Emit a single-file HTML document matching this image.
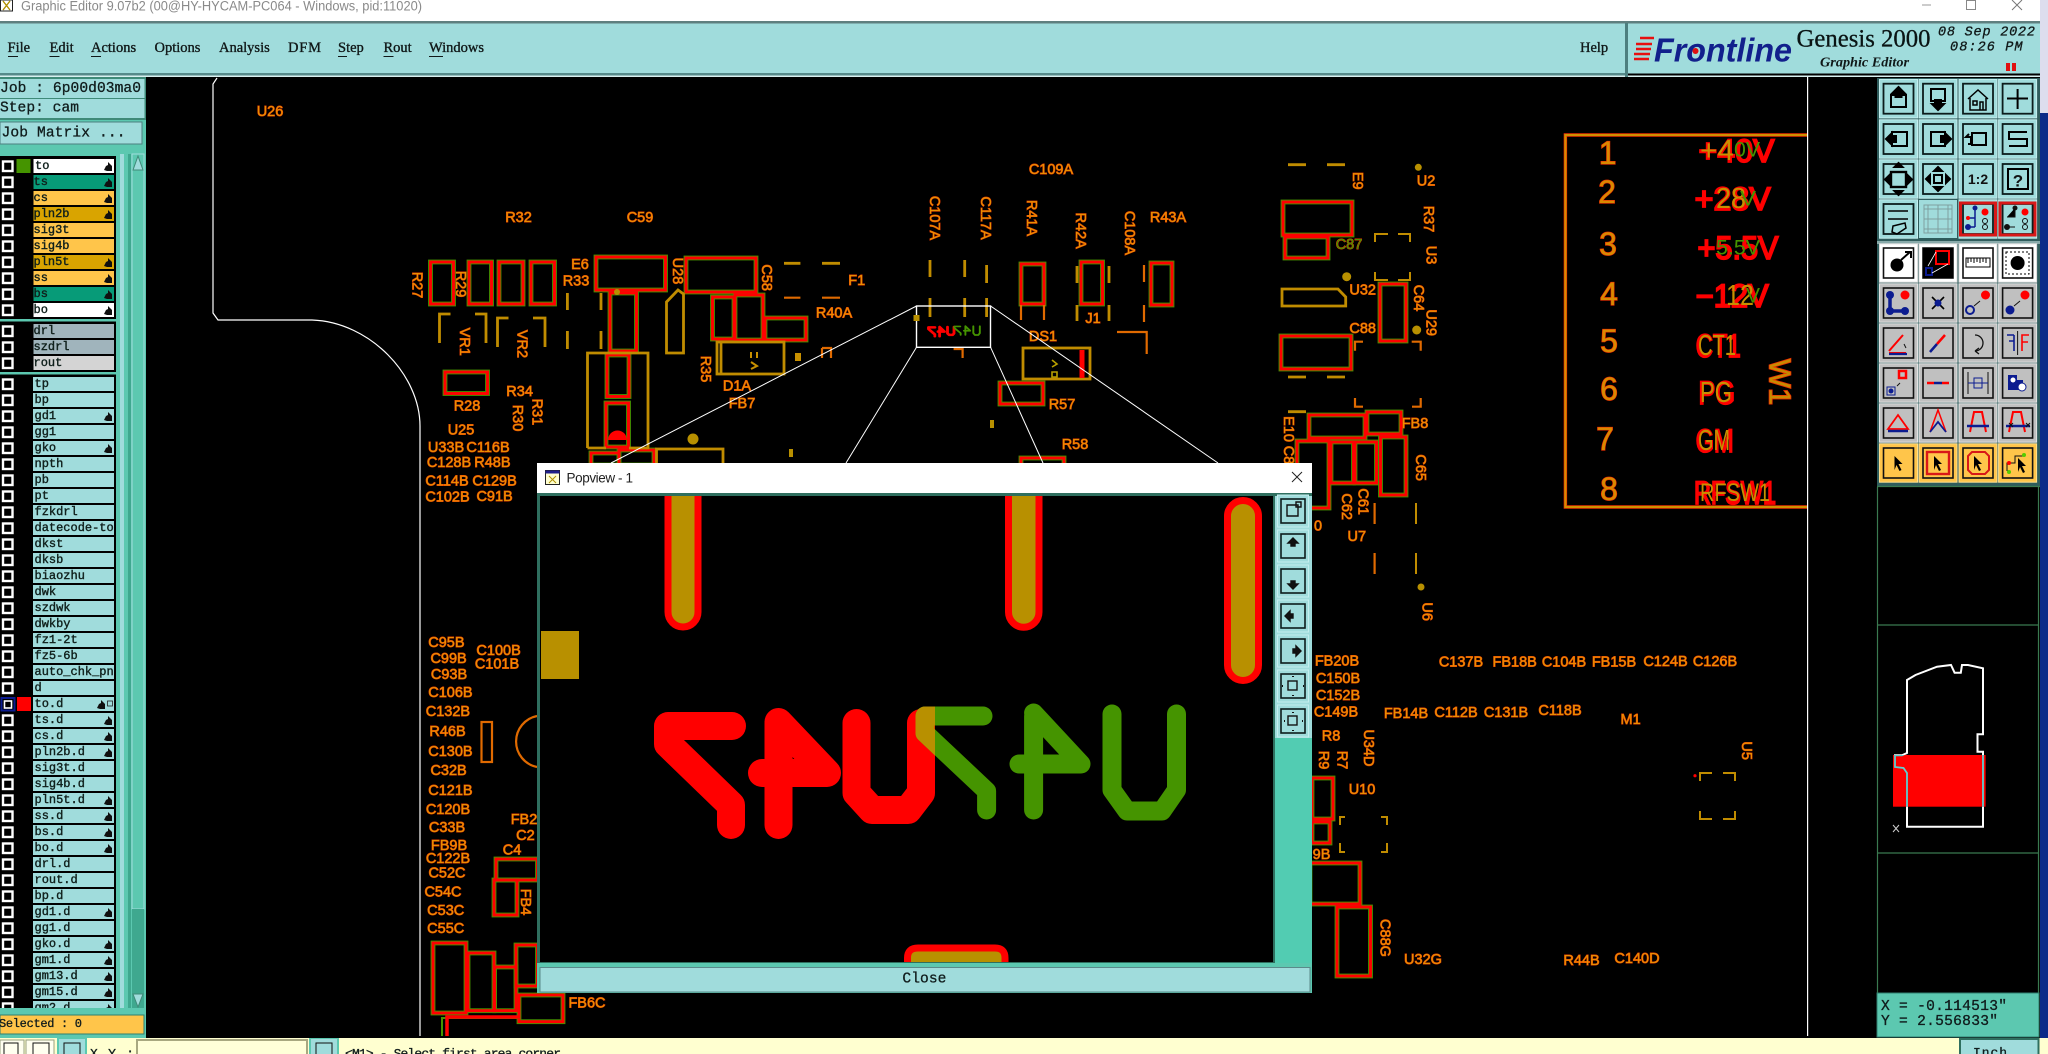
<!DOCTYPE html>
<html><head><meta charset="utf-8"><title>Genesis 2000 Graphic Editor</title>
<style>
html,body{margin:0;padding:0;background:#000;width:2048px;height:1054px;overflow:hidden}
svg{display:block}
text{dominant-baseline:central}
.l{font:14.5px "Liberation Sans",sans-serif;fill:#e89000;stroke:#e83c00;stroke-width:.9;paint-order:stroke;text-anchor:middle}
.m{font:12px "Liberation Mono",monospace;fill:#10201c;stroke:#10201c;stroke-width:.4}
.b{font:14.6px "Liberation Mono",monospace;fill:#101c1c;stroke:#101c1c;stroke-width:.3}
.s{font:14.5px "Liberation Serif",serif;fill:#101818;stroke:#101818;stroke-width:.35}
.n{font:32px "Liberation Sans",sans-serif;fill:#d88a00;stroke:#f03000;stroke-width:1.2;paint-order:stroke;text-anchor:middle}
.pr{font:32px "Liberation Sans",sans-serif;fill:#f00;stroke:#f00;stroke-width:1.8}
.pg{font:29px "Liberation Sans",sans-serif;fill:#c89000}
.pn{font:21px "Liberation Sans",sans-serif;fill:#459400}
</style></head><body>
<svg width="2048" height="1054" viewBox="0 0 2048 1054" xmlns="http://www.w3.org/2000/svg">
<defs>
<pattern id="rp" width="20" height="16" patternUnits="userSpaceOnUse" y="377"><rect width="20" height="14" fill="#a0dcdc"/></pattern>
<pattern id="cbp" width="20" height="16" patternUnits="userSpaceOnUse" x="0" y="377"><rect x="3" y="2.5" width="9.5" height="9.5" fill="#000" stroke="#fff" stroke-width="2.4"/></pattern>
<path id="h" d="M-4 3-2-1 0-2 0-5 2-3 4-1 4 4-1 4Z" fill="#101010"/>
<g id="bt"><rect x="-19" y="-19.2" width="38" height="38.4" fill="#a0dcdc" stroke="#c4eeee" stroke-width="1"/><rect x="-15" y="-15" width="30" height="30" fill="none" stroke="#0c1c1c" stroke-width="1.8"/></g>
<g id="bg"><rect x="-19" y="-19.2" width="38" height="38.4" fill="#c0c0c0" stroke="#e4e4e4" stroke-width="1"/><rect x="-15" y="-15" width="30" height="30" fill="none" stroke="#111" stroke-width="1.6"/></g>
<g id="bw"><rect x="-19" y="-19.2" width="38" height="38.4" fill="#fff" stroke="#ddd" stroke-width="1"/><rect x="-15" y="-15" width="30" height="30" fill="none" stroke="#111" stroke-width="1.6"/></g>
<g id="by"><rect x="-19" y="-19.2" width="38" height="38.4" fill="#ffc54a" stroke="#ffe090" stroke-width="1"/><rect x="-15" y="-15" width="30" height="30" fill="none" stroke="#111" stroke-width="1.6"/></g>
<g id="bp"><rect x="-15.5" y="-16" width="31" height="32" fill="#a0dcdc" stroke="#c4eeee"/><rect x="-12" y="-12" width="24" height="24" fill="none" stroke="#0c1c1c" stroke-width="1.6"/></g>
<path id="ar" d="M-4 7-4-7 4 1 0 1 3 7 1 8-2 2Z" fill="#000"/>
<g id="cm">
<rect x="430.5" y="262" width="23" height="42"/><rect x="469" y="262" width="22.5" height="42"/><rect x="499" y="262" width="24" height="42"/><rect x="531" y="262" width="23.5" height="42"/>
<rect x="596" y="257" width="69.5" height="33"/><rect x="686" y="258" width="70" height="34"/><rect x="610" y="293" width="26.5" height="58"/>
<rect x="607" y="355" width="22" height="41.5"/><rect x="606" y="403" width="22.5" height="44"/><rect x="445" y="372" width="42.5" height="21.5"/>
<rect x="712.5" y="297" width="21.5" height="42"/><rect x="735" y="295" width="28" height="45"/><rect x="765" y="318" width="41" height="22"/><rect x="1000" y="383" width="43" height="21"/>
<rect x="1021" y="264" width="23" height="40"/><rect x="1081" y="262" width="21.5" height="42"/><rect x="1151" y="263" width="21" height="42"/>
<rect x="1283" y="202" width="69" height="33"/><rect x="1285" y="237" width="43" height="21"/><rect x="1380" y="284" width="26" height="57"/><rect x="1281" y="336" width="70" height="33"/>
<rect x="1309" y="415" width="56" height="23"/><rect x="1367" y="412" width="34" height="22"/><rect x="1297" y="441" width="32" height="67"/><rect x="1331" y="442" width="22.5" height="41"/><rect x="1355" y="442" width="21.5" height="41"/><rect x="1380.5" y="437" width="25.5" height="58"/>
<rect x="496" y="859" width="41.5" height="21"/><rect x="494" y="880" width="23" height="35"/><rect x="433" y="943" width="33" height="70"/><rect x="468" y="953" width="26" height="57.7"/><rect x="494.6" y="967" width="21.4" height="43.7"/><rect x="516" y="945" width="21.5" height="41"/><rect x="519" y="995" width="44" height="26.7"/>
<rect x="591" y="453" width="28" height="12"/><rect x="619" y="450" width="35" height="15"/><rect x="1021" y="458" width="43" height="8"/>
<rect x="1312" y="778" width="21" height="41"/><rect x="1312" y="822" width="18" height="21"/><rect x="1310" y="863" width="50" height="41"/><rect x="1337" y="907" width="33.5" height="69"/>
</g>
<g id="txt">
<g fill="none" stroke="#f00" stroke-width="28" stroke-linejoin="round" stroke-linecap="round">
<path d="M732 726H668V744L731 805V825"/><path d="M778.5 723V825M762 773H827L778.5 722"/><path d="M856.5 723V793L872 810H908L921 793V723"/>
</g>
<path d="M770 745 L815 772 H775Z" fill="#f00"/>
<g fill="none" stroke="#459400" stroke-width="19" stroke-linejoin="round" stroke-linecap="round">
<path d="M983 716H925V733L986.6 791V810"/><path d="M1033.6 716V810M1019 764H1081L1033.6 713"/><path d="M1112 714V790L1127 811H1162L1176.5 790V714"/>
</g>
</g>
<clipPath id="ov"><path d="M907 705h28v90h-28z"/></clipPath>
<clipPath id="lst"><rect x="0" y="155" width="114" height="853"/></clipPath>
<clipPath id="pop"><rect x="540" y="496" width="733" height="466"/></clipPath>
<clipPath id="bot"><rect x="0" y="1038" width="2048" height="16"/></clipPath>
<clipPath id="redm"><rect x="1893" y="755" width="92.6" height="51.7"/></clipPath>
</defs>

<!-- base -->
<rect width="2048" height="1054" fill="#000"/>
<rect x="0" y="0" width="2048" height="21" fill="#fff"/>
<rect x="0" y="21" width="2040" height="2.5" fill="#5f7f7f"/>
<rect x="0" y="23.5" width="2040" height="50" fill="#a0dcdc"/>
<rect x="0" y="73" width="1625" height="2.5" fill="#568a8a"/>
<rect x="0" y="75.5" width="2040" height="1.5" fill="#d8f0f0"/>
<rect x="1625" y="23" width="3" height="54" fill="#4d7f7f"/>
<rect x="2040" y="0" width="8" height="113" fill="#dde"/>
<rect x="2040" y="113" width="8" height="941" fill="#0c2a88"/>

<!-- title -->
<rect x="0.5" y="0" width="12" height="11" fill="#fff" stroke="#222"/>
<path d="M3 1 10 10M10 1 3 10" stroke="#b09000" stroke-width="1.4"/>
<text x="21" y="6" style="font:13.4px 'Liberation Sans',sans-serif;fill:#8a8a8a" textLength="401" lengthAdjust="spacingAndGlyphs">Graphic Editor 9.07b2 (00@HY-HYCAM-PC064 - Windows, pid:11020)</text>
<path d="M1922 5h9" stroke="#999"/><rect x="1966.5" y="0.5" width="9" height="9" fill="none" stroke="#888"/><path d="M2012 0 2022 10M2022 0 2012 10" stroke="#777"/>

<!-- menu -->
<g class="s">
<text class="s" x="7.5" y="48">File</text><text class="s" x="49.5" y="48">Edit</text><text class="s" x="91" y="48">Actions</text><text class="s" x="154.5" y="48">Options</text><text class="s" x="219" y="48">Analysis</text><text class="s" x="288" y="48" textLength="33">DFM</text><text class="s" x="338" y="48">Step</text><text class="s" x="383.5" y="48">Rout</text><text class="s" x="429" y="48" textLength="55">Windows</text><text class="s" x="1580" y="48">Help</text>
</g>
<path d="M8 56.5h10M49.5 56.5h10M91 56.5h10M338 56.5h9M383.5 56.5h10M429 56.5h14" stroke="#101818" stroke-width="1"/>
<path d="M1640 38h14M1636 44h16M1636 49h15M1634 54h16M1634 59h15" stroke="#e81010" stroke-width="2.4"/>
<text x="1654" y="50" textLength="138" lengthAdjust="spacingAndGlyphs" style="font:italic bold 33px 'Liberation Sans',sans-serif;fill:#12208c">Frontline</text>
<circle cx="1695.5" cy="51" r="3" fill="#e01010"/>
<text x="1796.5" y="38" textLength="134" lengthAdjust="spacingAndGlyphs" style="font:25.5px 'Liberation Serif',serif;fill:#0a1414;stroke:#0a1414;stroke-width:.3">Genesis 2000</text>
<text x="1820" y="63" textLength="89" lengthAdjust="spacingAndGlyphs" style="font:italic bold 14px 'Liberation Serif',serif;fill:#101818">Graphic Editor</text>
<text x="1938" y="33" textLength="97" style="font:italic 13.5px 'Liberation Mono',monospace;fill:#101818;stroke:#101818;stroke-width:.3">08 Sep 2022</text>
<text x="1950" y="48" textLength="72.5" style="font:italic 13.5px 'Liberation Mono',monospace;fill:#101818;stroke:#101818;stroke-width:.3">08:26 PM</text>
<rect x="2006" y="63" width="4" height="8" fill="#e01010"/><rect x="2012" y="63" width="4" height="8" fill="#e01010"/>

<!-- left panel top -->
<rect x="0" y="77" width="146" height="80" fill="#3f8a78"/>
<rect x="0" y="79" width="144.5" height="19" fill="#a0dcdc"/>
<rect x="0" y="99" width="144.5" height="19" fill="#a0dcdc"/>
<rect x="0" y="120" width="146" height="27" fill="#5cc8b0"/>
<rect x="0" y="122" width="142" height="22" fill="#a0dcdc" stroke="#4d8080"/>
<text class="b" x="0" y="89" textLength="141">Job : 6p00d03ma0</text>
<text class="b" x="0" y="108.7" textLength="79">Step: cam</text>
<text class="b" x="1.5" y="133.3" textLength="124">Job Matrix ...</text>
<rect x="0" y="147" width="146" height="7" fill="#5cc8b0"/>
<rect x="0" y="154" width="116" height="854" fill="#000"/>
<rect x="116" y="154" width="30" height="861" fill="#5cc8b0"/>
<rect x="120" y="154" width="4" height="854" fill="#a0dcdc"/>
<rect x="128" y="154" width="3" height="854" fill="#3fa88f"/>
<rect x="132" y="154" width="12" height="755" fill="#5cc8b0" stroke="#a0dcdc"/>
<rect x="132" y="909" width="12" height="99" fill="#3fa88f"/>
<path d="M133 170 138 156 143 170Z" fill="#a0dcdc" stroke="#3f8a78"/><path d="M133 994 138 1007 143 994Z" fill="#a0dcdc" stroke="#3f8a78"/>

<!-- layers -->
<rect x="0" y="319" width="116" height="2.5" fill="#5cc8b0"/><rect x="0" y="372" width="116" height="2.5" fill="#5cc8b0"/>
<rect x="0" y="153" width="116" height="3" fill="#5cc8b0"/>
<rect x="0" y="377" width="16" height="160" fill="url(#cbp)" transform="translate(0 -218)"/>
<rect x="0" y="377" width="16" height="48" fill="url(#cbp)" transform="translate(0 -53)"/>
<rect x="0" y="377" width="16" height="631" fill="url(#cbp)"/>
<rect x="33" y="377" width="81" height="631" fill="url(#rp)"/>
<rect x="16.5" y="159" width="14" height="14" fill="#459400"/>
<rect x="33.5" y="159" width="80.5" height="14" fill="#fff"/><rect x="33.5" y="175" width="80.5" height="14" fill="#079b78"/><rect x="33.5" y="191" width="80.5" height="14" fill="#ffc54a"/><rect x="33.5" y="207" width="80.5" height="14" fill="#d9a400"/><rect x="33.5" y="223" width="80.5" height="14" fill="#ffc54a"/><rect x="33.5" y="239" width="80.5" height="14" fill="#ffc54a"/><rect x="33.5" y="255" width="80.5" height="14" fill="#d9a400"/><rect x="33.5" y="271" width="80.5" height="14" fill="#ffc54a"/><rect x="33.5" y="287" width="80.5" height="14" fill="#079b78"/><rect x="33.5" y="303" width="80.5" height="14" fill="#fff"/>
<rect x="33.5" y="324" width="80.5" height="14" fill="#a0b4bc"/><rect x="33.5" y="340" width="80.5" height="14" fill="#a0b4bc"/><rect x="33.5" y="356" width="80.5" height="14" fill="#d4d4d4"/>
<rect x="17" y="697" width="14" height="14" fill="#f00"/>
<rect x="1.5" y="698" width="13" height="12.5" fill="#000" stroke="#0c1c90" stroke-width="2"/><rect x="4.5" y="701" width="7" height="7" fill="#000" stroke="#fff" stroke-width="1.6"/>
<g clip-path="url(#lst)">
<text class="m" x="35" y="166">to</text><text class="m" x="33.5" y="182">ts</text><text class="m" x="33.5" y="198">cs</text><text class="m" x="33.5" y="214">pln2b</text><text class="m" x="33.5" y="230">sig3t</text><text class="m" x="33.5" y="246">sig4b</text><text class="m" x="33.5" y="262">pln5t</text><text class="m" x="33.5" y="278">ss</text><text class="m" x="33.5" y="294">bs</text><text class="m" x="33.5" y="310">bo</text>
<text class="m" x="33.5" y="331">drl</text><text class="m" x="33.5" y="347">szdrl</text><text class="m" x="33.5" y="363">rout</text>
<text class="m" x="34.5" y="384">tp</text><text class="m" x="34.5" y="400">bp</text><text class="m" x="34.5" y="416">gd1</text><text class="m" x="34.5" y="432">gg1</text><text class="m" x="34.5" y="448">gko</text><text class="m" x="34.5" y="464">npth</text><text class="m" x="34.5" y="480">pb</text><text class="m" x="34.5" y="496">pt</text><text class="m" x="34.5" y="512">fzkdrl</text><text class="m" x="34.5" y="528">datecode-to</text><text class="m" x="34.5" y="544">dkst</text><text class="m" x="34.5" y="560">dksb</text><text class="m" x="34.5" y="576">biaozhu</text><text class="m" x="34.5" y="592">dwk</text><text class="m" x="34.5" y="608">szdwk</text><text class="m" x="34.5" y="624">dwkby</text><text class="m" x="34.5" y="640">fz1-2t</text><text class="m" x="34.5" y="656">fz5-6b</text><text class="m" x="34.5" y="672">auto_chk_pnl</text><text class="m" x="34.5" y="688">d</text><text class="m" x="34.5" y="704">to.d</text><text class="m" x="34.5" y="720">ts.d</text><text class="m" x="34.5" y="736">cs.d</text><text class="m" x="34.5" y="752">pln2b.d</text><text class="m" x="34.5" y="768">sig3t.d</text><text class="m" x="34.5" y="784">sig4b.d</text><text class="m" x="34.5" y="800">pln5t.d</text><text class="m" x="34.5" y="816">ss.d</text><text class="m" x="34.5" y="832">bs.d</text><text class="m" x="34.5" y="848">bo.d</text><text class="m" x="34.5" y="864">drl.d</text><text class="m" x="34.5" y="880">rout.d</text><text class="m" x="34.5" y="896">bp.d</text><text class="m" x="34.5" y="912">gd1.d</text><text class="m" x="34.5" y="928">gg1.d</text><text class="m" x="34.5" y="944">gko.d</text><text class="m" x="34.5" y="960">gm1.d</text><text class="m" x="34.5" y="976">gm13.d</text><text class="m" x="34.5" y="992">gm15.d</text><text class="m" x="34.5" y="1008">gm2.d</text>
<use href="#h" x="108" y="167"/><use href="#h" x="108" y="183"/><use href="#h" x="108" y="199"/><use href="#h" x="108" y="215"/><use href="#h" x="108" y="263"/><use href="#h" x="108" y="279"/><use href="#h" x="108" y="295"/><use href="#h" x="108" y="311"/>
<use href="#h" x="108" y="417"/><use href="#h" x="108" y="449"/><use href="#h" x="101" y="705"/><rect x="107.5" y="701" width="5" height="5" fill="none" stroke="#222" stroke-width=".8"/><use href="#h" x="108" y="721"/><use href="#h" x="108" y="737"/><use href="#h" x="108" y="753"/><use href="#h" x="108" y="801"/><use href="#h" x="108" y="817"/><use href="#h" x="108" y="833"/><use href="#h" x="108" y="849"/><use href="#h" x="108" y="913"/><use href="#h" x="108" y="945"/><use href="#h" x="108" y="961"/><use href="#h" x="108" y="977"/><use href="#h" x="108" y="993"/><use href="#h" x="108" y="1009"/>
</g>
<rect x="0" y="1008" width="146" height="30" fill="#5cc8b0"/>
<rect x="0" y="1015" width="144" height="19" fill="#ffc54a" stroke="#2f7f6f"/>
<text class="b" x="-1" y="1024" textLength="83" style="font-size:12px">Selected : 0</text>

<!-- board outline -->
<path d="M217 78 213 84V313L218 320H312C370 322 420 375 420 426V1036M1807.6 77V1036" fill="none" stroke="#fff" stroke-width="1.2"/>

<!-- PCB components -->
<use href="#cm" stroke="#459400" stroke-width="4.8" fill="none"/>
<use href="#cm" stroke="#f00" stroke-width="2.9" fill="none"/>
<g fill="none" stroke="#c08c00" stroke-width="2.8">
<path d="M587.5 448V353H648V448H629M606 448H587.5"/>
<path d="M670 353H683.5V294L678 290 666.5 302V353Z"/>
<rect x="717" y="342" width="67" height="32"/><path d="M721 342V374"/>
<rect x="1023" y="348" width="67" height="31"/>
<rect x="656.5" y="449" width="66.5" height="16"/>
<path d="M450.5 314H439.5V343M475 314H486V343M508.5 318H497.5V347M533 318H545V347"/>
<path d="M567.4 293V310M567.4 331V349M601 293V310M601 331V349M784 263.3H800.4M822 263.3H840M930 260V277M964.7 260V277M986.6 265V283M930 298V317M964.7 298V317M986.6 298V317"/>
<path d="M1077 266V283M1109 266V283M1077 305V321M1109 305V321M1288 164.7H1306M1327 164.7H1345M1288 377H1306M1327 377H1345M1288 411.7H1306"/>
<path d="M1282 306V289H1338L1345.7 297V306Z"/>
</g>
<g fill="none" stroke="#c08c00" stroke-width="2">
<path d="M1375 242V234H1388M1398 234H1410V242M1375 272V280H1388M1398 280H1410V272"/>
<path d="M1416 503V524M1416 553V574"/>
<path d="M1340 825V817H1345M1381 817H1387V825M1340 843V852H1345M1381 852H1387V843"/>
<path d="M1700 781V773H1712M1723 773H1735V781M1700 811V819H1712M1723 819H1735V811"/>
</g>
<g fill="none" stroke="#e06a00" stroke-width="2.2">
<path d="M784 297.7H800.4M822 297.7H840M953.6 349H962.6V358M1021 305V320M1044 305V320M1144 265V282M1144 305V322M1117 332H1146.7V354M1374.6 503V524M1374.6 553V574"/>
<path d="M1363 341.7H1355V350.7M1411.7 341.7H1420.7V350.7M1355 398V406.7H1363M1420.7 398V406.7H1412"/>
<rect x="481.5" y="722" width="10.5" height="40"/><path d="M537 716A26 26 0 0 0 537 767"/>
<path d="M822 348H831V358M822 348V358"/>
</g>
<path d="M1082 350V378" stroke="#f00" stroke-width="5"/>
<path d="M442 1036V1018H520M447 1036V1020" fill="none" stroke="#459400" stroke-width="2"/><path d="M447 1036V1017H520" fill="none" stroke="#f00" stroke-width="3.5"/>
<path d="M608 440A9.5 9.5 0 0 1 627 440Z" fill="#f00"/>
<circle cx="693" cy="439" r="5.5" fill="#b89000"/><rect x="789" y="449" width="4" height="8" fill="#b89000"/><rect x="990" y="420" width="4" height="8" fill="#b89000"/><rect x="795" y="353" width="6" height="8" fill="#c89000"/>
<circle cx="1418.3" cy="167.3" r="3.5" fill="#b89000"/><circle cx="1346.7" cy="276.7" r="4.5" fill="#b89000"/><circle cx="1416.7" cy="330" r="4.5" fill="#b89000"/><circle cx="1421" cy="587" r="3.5" fill="#b89000"/>
<circle cx="1695" cy="775.7" r="1.6" fill="#f00"/><circle cx="617" cy="292" r="3" fill="#b89000"/>
<path d="M751 352v6M757 352v6M751 362l6 4-6 3" stroke="#c89000" fill="none" stroke-width="2"/>
<path d="M1052 360l5 4-5 3M1052 372h5v5h-5z" stroke="#b8a000" fill="none" stroke-width="1.6"/>

<!-- labels -->
<text class="l" x="270" y="112">U26</text><text class="l" x="518.5" y="218">R32</text><text class="l" x="640" y="218">C59</text><text class="l" x="580" y="265">E6</text><text class="l" x="576" y="281.7">R33</text>
<text class="l" x="416.5" y="285" transform="rotate(90 416.5 285)">R27</text><text class="l" x="460" y="284" transform="rotate(90 460 284)">R29</text><text class="l" x="464" y="341.7" transform="rotate(90 464 341.7)">VR1</text><text class="l" x="521.4" y="344" transform="rotate(90 521.4 344)">VR2</text><text class="l" x="676.8" y="271" transform="rotate(90 676.8 271)">U28</text><text class="l" x="766" y="277.7" transform="rotate(90 766 277.7)">C58</text>
<text class="l" x="856.7" y="281">F1</text><text class="l" x="834" y="313.3">R40A</text><text class="l" x="705" y="369" transform="rotate(90 705 369)">R35</text><text class="l" x="737" y="386.7">D1A</text><text class="l" x="742" y="404">FB7</text><text class="l" x="467" y="406.7">R28</text><text class="l" x="519.6" y="392">R34</text><text class="l" x="517" y="418" transform="rotate(90 517 418)">R30</text><text class="l" x="536.6" y="412" transform="rotate(90 536.6 412)">R31</text><text class="l" x="461" y="430.7">U25</text>
<text class="l" x="446" y="448">U33B</text><text class="l" x="488" y="448">C116B</text><text class="l" x="449" y="463">C128B</text><text class="l" x="492.4" y="463">R48B</text><text class="l" x="447" y="481.7">C114B</text><text class="l" x="494.6" y="481.7">C129B</text><text class="l" x="447.5" y="497.7">C102B</text><text class="l" x="494.6" y="496.8">C91B</text>
<text class="l" x="1051" y="170">C109A</text><text class="l" x="934" y="218" transform="rotate(90 934 218)">C107A</text><text class="l" x="984.8" y="218" transform="rotate(90 984.8 218)">C117A</text><text class="l" x="1031" y="218" transform="rotate(90 1031 218)">R41A</text><text class="l" x="1080" y="230.7" transform="rotate(90 1080 230.7)">R42A</text><text class="l" x="1129" y="233" transform="rotate(90 1129 233)">C108A</text><text class="l" x="1168" y="218">R43A</text><text class="l" x="1093" y="319">J1</text><text class="l" x="1043" y="337">DS1</text><text class="l" x="1062" y="405">R57</text><text class="l" x="1075" y="445">R58</text>
<text class="l" x="1357" y="180.7" transform="rotate(90 1357 180.7)">E9</text><text class="l" x="1426" y="181.7">U2</text><text class="l" x="1428" y="219" transform="rotate(90 1428 219)">R37</text><text class="l" x="1349" y="245" style="fill:#459400">C87</text><text class="l" x="1430.7" y="255" transform="rotate(90 1430.7 255)">U3</text><text class="l" x="1362.7" y="290.7">U32</text><text class="l" x="1418" y="298" transform="rotate(90 1418 298)">C64</text><text class="l" x="1430.7" y="322.7" transform="rotate(90 1430.7 322.7)">U29</text><text class="l" x="1362.7" y="329">C88</text><text class="l" x="1415" y="424">FB8</text><text class="l" x="1288" y="429" transform="rotate(90 1288 429)">E10</text><text class="l" x="1288" y="455" transform="rotate(90 1288 455)">C8</text><text class="l" x="1420" y="467.7" transform="rotate(90 1420 467.7)">C65</text><text class="l" x="1346" y="506.7" transform="rotate(90 1346 506.7)">C62</text><text class="l" x="1362.7" y="501.7" transform="rotate(90 1362.7 501.7)">C61</text><text class="l" x="1318" y="526.7">0</text><text class="l" x="1356.8" y="537">U7</text><text class="l" x="1426.7" y="611.7" transform="rotate(90 1426.7 611.7)">U6</text>
<text class="l" x="446.4" y="643">C95B</text><text class="l" x="448.6" y="659">C99B</text><text class="l" x="449" y="675">C93B</text><text class="l" x="450.4" y="693">C106B</text><text class="l" x="447.9" y="712">C132B</text><text class="l" x="447.5" y="732">R46B</text><text class="l" x="450.4" y="752">C130B</text><text class="l" x="448.6" y="771">C32B</text><text class="l" x="450.4" y="791">C121B</text><text class="l" x="448" y="810">C120B</text><text class="l" x="447" y="828">C33B</text><text class="l" x="449" y="846">FB9B</text><text class="l" x="448" y="859">C122B</text><text class="l" x="447" y="873.5">C52C</text><text class="l" x="443" y="892.5">C54C</text><text class="l" x="445.7" y="911">C53C</text><text class="l" x="445.7" y="929">C55C</text><text class="l" x="498.6" y="651">C100B</text><text class="l" x="497" y="664.6">C101B</text><text class="l" x="524" y="820">FB2</text><text class="l" x="525.4" y="836">C2</text><text class="l" x="512" y="850.5">C4</text><text class="l" x="525" y="902" transform="rotate(90 525 902)">FB4</text><text class="l" x="587" y="1003.6">FB6C</text>
<text class="l" x="1337" y="661.7">FB20B</text><text class="l" x="1338" y="679">C150B</text><text class="l" x="1338" y="696">C152B</text><text class="l" x="1336" y="712.7">C149B</text><text class="l" x="1331" y="736.7">R8</text><text class="l" x="1323" y="760" transform="rotate(90 1323 760)">R9</text><text class="l" x="1341.5" y="760" transform="rotate(90 1341.5 760)">R7</text><text class="l" x="1368" y="748" transform="rotate(90 1368 748)">U34D</text><text class="l" x="1362" y="790">U10</text><text class="l" x="1321.5" y="855">9B</text><text class="l" x="1746" y="750.7" transform="rotate(90 1746 750.7)">U5</text>
<text class="l" x="1461" y="662.7">C137B</text><text class="l" x="1514.7" y="662.7">FB18B</text><text class="l" x="1564" y="662.7">C104B</text><text class="l" x="1614" y="662.7">FB15B</text><text class="l" x="1665.5" y="662">C124B</text><text class="l" x="1715" y="662">C126B</text><text class="l" x="1406" y="714">FB14B</text><text class="l" x="1456" y="713">C112B</text><text class="l" x="1506" y="713">C131B</text><text class="l" x="1560" y="711">C118B</text><text class="l" x="1630.6" y="720">M1</text><text class="l" x="1384.4" y="938" transform="rotate(90 1384.4 938)">C88G</text><text class="l" x="1423" y="960">U32G</text><text class="l" x="1581.5" y="961">R44B</text><text class="l" x="1637" y="959">C140D</text>

<!-- connector table -->
<path d="M1807 135H1565.4V507H1807" fill="none" stroke="#f03000" stroke-width="3.4"/><path d="M1807 135H1565.4V507H1807" fill="none" stroke="#d09000" stroke-width="2"/>
<text class="n" x="1607.6" y="153">1</text><text class="n" x="1607" y="192">2</text><text class="n" x="1608" y="244">3</text><text class="n" x="1609" y="294">4</text><text class="n" x="1609" y="341">5</text><text class="n" x="1609" y="389">6</text><text class="n" x="1605" y="439">7</text><text class="n" x="1609" y="489">8</text>
<text class="pr" x="1698.5" y="151" textLength="76" lengthAdjust="spacingAndGlyphs">+40V</text><text class="pg" x="1700" y="151" textLength="34" lengthAdjust="spacingAndGlyphs">+4</text><text class="pn" x="1734" y="150" textLength="26" lengthAdjust="spacingAndGlyphs">0V</text>
<text class="pr" x="1694.7" y="199" textLength="76" lengthAdjust="spacingAndGlyphs">+28V</text><text class="pg" x="1716" y="199" textLength="30" lengthAdjust="spacingAndGlyphs">28</text><text class="pn" x="1740" y="199" textLength="16" lengthAdjust="spacingAndGlyphs">V</text>
<text class="pr" x="1697.5" y="248" textLength="81" lengthAdjust="spacingAndGlyphs">+5.5V</text><text class="pn" x="1716" y="248" textLength="44" lengthAdjust="spacingAndGlyphs">5.5V</text>
<text class="pr" x="1695.7" y="296" textLength="73" lengthAdjust="spacingAndGlyphs">−12V</text><text class="pg" x="1726" y="296" textLength="28" lengthAdjust="spacingAndGlyphs">12</text><text class="pn" x="1746" y="296" textLength="14" lengthAdjust="spacingAndGlyphs">V</text>
<text class="pr" x="1695.7" y="346" textLength="45" lengthAdjust="spacingAndGlyphs">CT1</text><text class="pg" x="1698" y="346" textLength="38" lengthAdjust="spacingAndGlyphs">CT1</text>
<text class="pr" x="1698.5" y="393" textLength="36.5" lengthAdjust="spacingAndGlyphs">PG</text><text class="pg" x="1700" y="393" textLength="32" lengthAdjust="spacingAndGlyphs">PG</text>
<text class="pr" x="1695.7" y="441" textLength="38" lengthAdjust="spacingAndGlyphs">GM</text><text class="pg" x="1698" y="441" textLength="32" lengthAdjust="spacingAndGlyphs">GM</text>
<text class="pr" x="1694" y="493" textLength="82" lengthAdjust="spacingAndGlyphs">RFSW1</text><text class="pg" x="1700" y="493" textLength="70" lengthAdjust="spacingAndGlyphs" style="font-size:25px">RFSW1</text>
<text x="1780" y="382" transform="rotate(90 1780 382)" text-anchor="middle" style="font:31px 'Liberation Sans',sans-serif;fill:#c88a00;stroke:#f03000;stroke-width:1.6;paint-order:stroke">W1</text>

<!-- zoom rectangle -->
<rect x="916.5" y="306" width="74" height="41.3" fill="none" stroke="#fff" stroke-width="1.4"/>
<path d="M916.5 306 611 463M990.6 306 1218 463M916.5 347.3 846 463M990.6 347.3 1043 463" stroke="#fff" stroke-width="1" fill="none"/>
<rect x="913.5" y="315" width="6" height="6" fill="#b89000"/>
<use href="#txt" transform="translate(861 262) scale(.101 .09)"/>

<!-- popup -->
<rect x="537" y="463" width="775" height="30" fill="#fff"/>
<rect x="545.5" y="470.5" width="14" height="14" fill="#ffffd0" stroke="#222"/><rect x="545.5" y="470.5" width="14" height="3" fill="#20208a"/><path d="M549 476l7 7M556 476l-7 7" stroke="#b09000"/>
<text x="566.5" y="478" textLength="66.5" style="font:13.5px 'Liberation Sans',sans-serif;fill:#222">Popview - 1</text>
<path d="M1292 472 1302 482M1302 472 1292 482" stroke="#222" stroke-width="1"/>
<rect x="537" y="493" width="775" height="500" fill="#2f6f5f"/>
<rect x="540" y="496" width="733" height="466" fill="#000"/>
<rect x="1275" y="496" width="37" height="467" fill="#52ccb2"/><rect x="1275" y="496" width="37" height="242" fill="#a0dcdc"/>
<rect x="537" y="963" width="775" height="30" fill="#5cc8b0"/>
<rect x="540" y="967.5" width="770" height="24.5" fill="#a0dcdc" stroke="#5a8a8a"/>
<text class="b" x="902.4" y="979.7" textLength="44">Close</text>
<g clip-path="url(#pop)">
<path d="M668 490V612A15 15 0 0 0 698 612V490ZM1008.5 490V612A15 15 0 0 0 1039 612V490Z" fill="#b89000" stroke="#f00" stroke-width="7"/>
<rect x="1227.5" y="500.5" width="31" height="180" rx="15.5" fill="#b89000" stroke="#f00" stroke-width="7"/>
<rect x="541" y="631" width="38" height="48" fill="#b89000"/>
<path d="M907.500 970V958Q907.500 948 918 948H995Q1005 948 1005 958V970Z" fill="#b89000" stroke="#f00" stroke-width="7"/>
<use href="#txt"/>
<g clip-path="url(#ov)"><path d="M983 716H925V733L986.600 791" fill="none" stroke="#b89000" stroke-width="19" stroke-linejoin="round" stroke-linecap="round"/></g>
</g>
<use href="#bp" x="1293" y="511"/><use href="#bp" x="1293" y="546"/><use href="#bp" x="1293" y="581"/><use href="#bp" x="1293" y="616"/><use href="#bp" x="1293" y="651"/><use href="#bp" x="1293" y="686"/><use href="#bp" x="1293" y="721"/>
<g fill="#111" stroke="#111" stroke-width="1.4">
<path d="M1287 505h11v11h-11zM1296 502h5v5h-5z" fill="none"/><path d="M1293 538l5 5h-3v3h-4v-3h-3zM1293 589l5-5h-3v-3h-4v3h-3zM1285 616l5-5v3h3v4h-3v3zM1301 651l-5-5v3h-3v4h3v3z"/><rect x="1288" y="681" width="9" height="9" fill="none"/><rect x="1288" y="716" width="9" height="9" fill="none"/><path d="M1293 677v-1M1293 696v-1M1283 686h-1M1304 686h-1" stroke-width="2"/><path d="M1293 713v-1M1293 731v-1M1285 721h-1M1303 721h-1" stroke-width="2"/>
</g>

<!-- right toolbar -->
<rect x="1877" y="78" width="163" height="408" fill="#2f5c5c"/>
<rect x="1877" y="241" width="163" height="3" fill="#8aa"/>
<g>
<use href="#bt" x="1898.5" y="98.7"/><use href="#bt" x="1938" y="98.7"/><use href="#bt" x="1978" y="98.7"/><use href="#bt" x="2017.6" y="98.7"/>
<use href="#bt" x="1898.5" y="139"/><use href="#bt" x="1938" y="139"/><use href="#bt" x="1978" y="139"/><use href="#bt" x="2017.6" y="139"/>
<use href="#bt" x="1898.5" y="179"/><use href="#bt" x="1938" y="179"/><use href="#bt" x="1978" y="179"/><use href="#bt" x="2017.6" y="179"/>
<use href="#bt" x="1898.5" y="219"/><rect x="1919" y="200" width="38" height="38" fill="#a0dcdc"/><use href="#bt" x="1978" y="219"/><use href="#bt" x="2017.6" y="219"/>
<use href="#bw" x="1898.5" y="263"/><use href="#bw" x="1938" y="263"/><use href="#bw" x="1978" y="263"/><use href="#bw" x="2017.6" y="263"/>
<use href="#bg" x="1898.5" y="303"/><use href="#bg" x="1938" y="303"/><use href="#bg" x="1978" y="303"/><use href="#bg" x="2017.6" y="303"/>
<use href="#bg" x="1898.5" y="343"/><use href="#bg" x="1938" y="343"/><use href="#bg" x="1978" y="343"/><use href="#bg" x="2017.6" y="343"/>
<use href="#bg" x="1898.5" y="383"/><use href="#bg" x="1938" y="383"/><use href="#bg" x="1978" y="383"/><use href="#bg" x="2017.6" y="383"/>
<use href="#bg" x="1898.5" y="423"/><use href="#bg" x="1938" y="423"/><use href="#bg" x="1978" y="423"/><use href="#bg" x="2017.6" y="423"/>
<use href="#by" x="1898.5" y="463"/><use href="#by" x="1938" y="463"/><use href="#by" x="1978" y="463"/><use href="#by" x="2017.6" y="463"/>
</g>
<g fill="none" stroke="#000" stroke-width="2">
<path d="M1891 95h15v12h-15z"/><path d="M1898.500 87l6 6h-3v4h-6v-4h-3z" fill="#000"/>
<path d="M1931 89h14v12h-14z"/><path d="M1938 110l6-6h-3v-4h-6v4h-3z" fill="#000"/>
<path d="M1968 99l10-9 10 9M1970 98v12h16V98M1973 101h4v4h-4zM1980 102h3v8h-3z" stroke-width="1.500"/>
<path d="M2007 98.500h21M2017.600 89v20"/>
<path d="M1892 132h15v14h-15z"/><path d="M1886 139l6-6v3h4v6h-4v3z" fill="#000"/>
<path d="M1931 132h14v14h-14z"/><path d="M1951 139l-6-6v3h-4v6h4v3z" fill="#000"/>
<path d="M1972 133h14v12h-14zM1969 134l-3 3h5v7h-3"/>
<path d="M2027 132h-18v7h18v7h-18"/>
<rect x="1891" y="172" width="15" height="15" stroke-width="2.4"/><path d="M1898.500 163l4 4h-8zM1898.500 195l4-4h-8zM1885 179.500l4-4v8zM1912 179.500l-4-4v8z" fill="#000"/>
<rect x="1934" y="175" width="8" height="8" stroke-width="2"/><path d="M1938 167l4 4h-8zM1938 191l4-4h-8zM1926 179l4-4v8zM1950 179l-4-4v8z" fill="#000"/>
<rect x="2008" y="169" width="20" height="20" stroke-width="2"/>
<path d="M1888 211h20M1888 219h20M1893 226l12-3 1 5-9 6-5-2z" stroke-width="1.500"/>
</g>
<text x="1978" y="179" text-anchor="middle" style="font:bold 14px 'Liberation Sans',sans-serif;fill:#111">1:2</text>
<text x="2018" y="181" text-anchor="middle" style="font:bold 17px 'Liberation Sans',sans-serif;fill:#111">?</text>
<path d="M1924 209h28M1924 219h28M1924 229h28M1928 205v28M1938 205v28M1948 205v28" stroke="#7f9f9f" stroke-width="1"/>
<rect x="1924" y="205" width="28" height="28" fill="none" stroke="#7f9f9f"/>
<rect x="1960.500" y="203" width="35" height="32" fill="none" stroke="#d81818" stroke-width="3"/><rect x="2000" y="203" width="35" height="32" fill="none" stroke="#d81818" stroke-width="3"/>
<path d="M1975 208v19M1968 218h7M1968 227h7" stroke="#0c1c90" stroke-width="1.5"/>
<circle cx="1975" cy="208" r="2.500" fill="#0c1c90"/><circle cx="1968" cy="227" r="3" fill="#0c1c90"/><circle cx="1985" cy="212" r="3.500" fill="#f00"/><circle cx="1985" cy="221" r="2.500" fill="none" stroke="#111"/><circle cx="1985" cy="227" r="2.500" fill="none" stroke="#111"/><circle cx="1968" cy="218" r="2" fill="#f00"/>
<circle cx="2015" cy="208" r="2.500" fill="#111"/><circle cx="2007" cy="227" r="3" fill="#111"/><circle cx="2025" cy="212" r="3.500" fill="#f00"/><circle cx="2025" cy="221" r="2.500" fill="none" stroke="#111"/><circle cx="2025" cy="227" r="2.500" fill="none" stroke="#111"/><path d="M2015 208v9h-8M2007 227h8" stroke="#111"/>

<circle cx="1897" cy="265" r="6.500" fill="#000"/><path d="M1901 260l9-8M1905 252h6v6" fill="none" stroke="#000" stroke-width="2"/>
<rect x="1923" y="248" width="30" height="30" fill="#000"/><rect x="1936" y="251" width="13" height="13" fill="none" stroke="#f00" stroke-width="2"/><rect x="1926" y="268" width="6" height="7" fill="none" stroke="#0c1c90" stroke-width="2"/><path d="M1928 266 1936 252M1932 273 1948 264" stroke="#fff" stroke-width=".8"/>
<rect x="1966" y="258" width="24" height="9" fill="#fff" stroke="#000"/><path d="M1968 258v5M1971 258v4M1974 258v5M1977 258v4M1980 258v5M1983 258v4M1986 258v5" stroke="#000"/>
<circle cx="2017.600" cy="263" r="7" fill="#000"/><rect x="2006" y="252" width="23" height="22" fill="none" stroke="#000" stroke-dasharray="2 2"/>
<g fill="#0c1c90"><circle cx="1890" cy="295" r="4"/><circle cx="1890" cy="311" r="4"/><circle cx="1905" cy="311" r="4"/></g><circle cx="1905" cy="295" r="4.500" fill="#f00"/><path d="M1890 295v16h15" stroke="#0c1c90" stroke-width="3.500" fill="none"/>
<path d="M1932 297l12 12M1944 297l-12 12" stroke="#000" stroke-width="1.6"/><circle cx="1938" cy="303" r="3.500" fill="#0c1c90"/>
<circle cx="1985.500" cy="295" r="4.500" fill="#f00"/><circle cx="1970" cy="310" r="4" fill="none" stroke="#0c1c90" stroke-width="2"/><path d="M1974 306l6-5" stroke="#111"/>
<circle cx="2025" cy="295" r="4.500" fill="#f00"/><circle cx="2010" cy="310" r="4.500" fill="#0c1c90"/><path d="M2014 306l6-5" stroke="#111"/>
<path d="M1889 351l14-16M1889 353h17" stroke="#f00" stroke-width="2"/><path d="M1889 354h18" stroke="#0c1c90" stroke-width="2.200"/><path d="M1904 344l2 4" stroke="#111"/>
<path d="M1930 352l7-8" stroke="#0c1c90" stroke-width="2.500"/><path d="M1937 344l8-9" stroke="#f00" stroke-width="2.500"/>
<path d="M1975 335a8 8 0 0 1 0 16M1975 351l4-3M1975 351l4 3" fill="none" stroke="#111" stroke-width="1.300"/>
<path d="M2017.600 331v24" stroke="#111"/><path d="M2007 335h7M2009 341h5M2014 335v16" fill="none" stroke="#0c1c90" stroke-width="1.600"/><path d="M2029 335h-7v16M2022 342h6" fill="none" stroke="#f00" stroke-width="1.600"/>
<rect x="1899" y="371" width="7" height="7" fill="none" stroke="#f00" stroke-width="2.500"/><rect x="1887" y="387" width="8" height="8" fill="none" stroke="#0c1c90"/><circle cx="1891" cy="391" r="2.500" fill="#0c1c90"/><path d="M1897 386l3-3" stroke="#111"/>
<path d="M1927 383h7" stroke="#f00" stroke-width="2.500"/><path d="M1934 383h8" stroke="#0c1c90" stroke-width="2.500"/><path d="M1942 383h7" stroke="#f00" stroke-width="2.500"/>
<path d="M1968 372v22M1988 372v22" stroke="#111"/><rect x="1974" y="378" width="8" height="10" fill="none" stroke="#0c1c90"/><path d="M1968 383h20" stroke="#0c1c90"/>
<path d="M2008 375h9v5h6v10h-15z" fill="#0c1c90"/><circle cx="2013" cy="380" r="2.500" fill="#fff"/><circle cx="2022" cy="387" r="4" fill="#fff" stroke="#0c1c90"/>
<path d="M1888 429l10-14 10 14z" fill="none" stroke="#f00" stroke-width="1.800"/><path d="M1888 431h20" stroke="#0c1c90" stroke-width="2.400"/>
<path d="M1930 432l8-22 8 22" fill="none" stroke="#f00" stroke-width="1.500"/><path d="M1930 432l8-10 8 10" fill="none" stroke="#0c1c90" stroke-width="1.800"/>
<path d="M1970 432l4-20h8l4 20" fill="none" stroke="#f00" stroke-width="2"/><path d="M1967 426h22" stroke="#0c1c90" stroke-width="2.600"/>
<path d="M2009 432l4-20h8l4 20" fill="none" stroke="#f00" stroke-width="2"/><path d="M2006 426h24" stroke="#0c1c90" stroke-width="2.600"/><path d="M2009 423l4 4M2013 423l-4 4M2026 423l4 4M2030 423l-4 4" stroke="#111"/>
<use href="#ar" x="1898.500" y="463"/><use href="#ar" x="1938" y="463"/><rect x="1927" y="452" width="22" height="22" fill="none" stroke="#d81818" stroke-width="2.400"/><use href="#ar" x="1978" y="463"/><path d="M1972 452h13l4 4v14l-4 4h-13l-4-4v-14z" fill="none" stroke="#d81818" stroke-width="2"/><use href="#ar" x="2022" y="465"/><path d="M2007 471v-8h8v-7h9" fill="none" stroke="#111"/><circle cx="2024" cy="455" r="2" fill="#5c0"/><circle cx="2009" cy="463" r="2" fill="#f00"/><circle cx="2009" cy="472" r="2" fill="#5c0"/>

<!-- mini view -->
<path d="M1877.500 487V993M2038.500 487V993M1877 853H2039M1877 625H2039M1877 486.500H2040" stroke="#3a7a50" stroke-width="1.200" fill="none"/>
<path d="M1907 680 1915.500 675 1937 666.700 1951 665 1954.600 672.700H1960.800L1962 665H1968L1983 668.300V734.300H1977.500V751.700H1983V826.700H1907V773L1903.500 768 1895 767V755.300H1902L1907 753Z" fill="none" stroke="#fff" stroke-width="2"/>
<rect x="1893" y="755" width="92.600" height="51.700" fill="#f00"/>
<path clip-path="url(#redm)" d="M1983 751.700V826.700H1907V773L1903.500 768 1895 767V755.300H1902L1907 753" fill="none" stroke="#5cd0d0" stroke-width="1.800"/>
<path d="M1893 825 1899 832M1899 825 1893 832" stroke="#ccc"/>
<rect x="1877" y="993" width="162" height="44" fill="#5cc8b0" stroke="#2f7f6f"/>
<text class="b" x="1881" y="1007" textLength="126">X = -0.114513"</text>
<text class="b" x="1881" y="1022" textLength="117">Y = 2.556833"</text>

<!-- status bar -->
<rect x="0" y="1038" width="2048" height="16" fill="#ffffd0"/>
<g clip-path="url(#bot)">
<rect x="0" y="1040" width="24" height="20" fill="#fffff0" stroke="#99a080"/><rect x="26" y="1040" width="28" height="20" fill="#fffff0" stroke="#99a080"/><rect x="58" y="1038" width="28" height="20" fill="#a0dcdc" stroke="#5cc8b0" stroke-width="2"/><rect x="64" y="1043" width="16" height="14" fill="none" stroke="#111"/><rect x="33" y="1043" width="16" height="14" fill="none" stroke="#111"/><rect x="4" y="1043" width="14" height="14" fill="none" stroke="#111"/>
<text class="b" x="90" y="1054" textLength="44" style="font-size:13px">X,Y :</text>
<rect x="137" y="1040" width="170" height="20" fill="#ffffd8" stroke="#a8a880" stroke-width="2"/>
<rect x="310" y="1038" width="28" height="20" fill="#a0dcdc" stroke="#5cc8b0" stroke-width="2"/><rect x="316" y="1043" width="16" height="14" fill="none" stroke="#111"/>
<text class="b" x="345" y="1054" textLength="216" style="font-size:13px">&lt;M1&gt; - Select first area corner</text>
<rect x="1960" y="1039" width="78.500" height="20" fill="#a0dcdc" stroke="#2f6f5f" stroke-width="2"/>
<text class="b" x="1973" y="1053" textLength="34" style="font-size:13px">Inch</text>
</g>
</svg>
</body></html>
